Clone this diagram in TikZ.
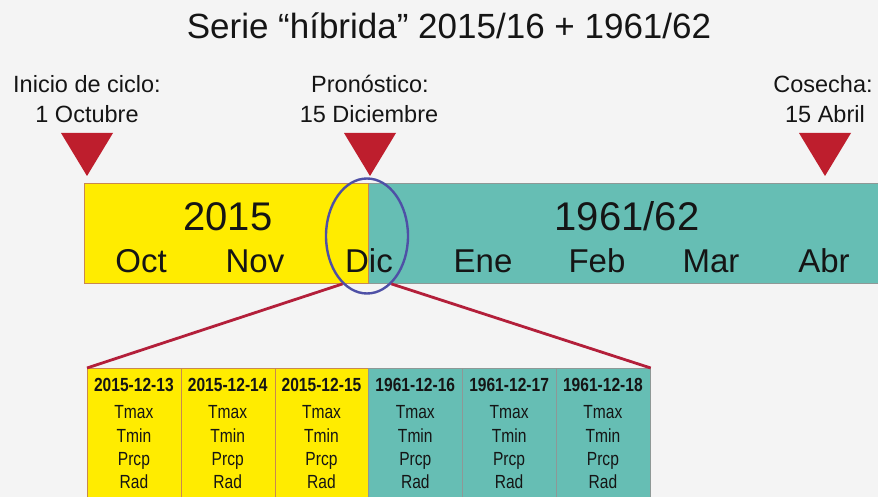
\documentclass[tikz,border=0pt]{standalone}
\usepackage{fontspec}
\setmainfont{Liberation Sans}
\usetikzlibrary{shapes.geometric}
\definecolor{bg}{HTML}{F4F4F4}
\definecolor{yel}{HTML}{FFEC00}
\definecolor{tealc}{HTML}{66BEB4}
\definecolor{tri}{HTML}{BE1E2D}
\definecolor{ellc}{HTML}{4E50A6}
\definecolor{lnk}{HTML}{B31F3A}
\definecolor{ybd}{HTML}{C98850}
\definecolor{tbd}{HTML}{8E9896}
\definecolor{ink}{HTML}{151515}
\newcommand{\nrw}[1]{\scalebox{0.82}[1]{#1}}
\begin{document}
\begin{tikzpicture}[x=1pt,y=-1pt,
  txt/.style={inner sep=0pt,text=ink,anchor=base},
  titletxt/.style={txt,font=\fontsize{35}{40}\selectfont},
  lbl/.style={txt,font=\fontsize{23.5}{28}\selectfont},
  yeartxt/.style={txt,font=\fontsize{40}{44}\selectfont},
  monthtxt/.style={txt,font=\fontsize{33}{40}\selectfont},
  datetxt/.style={txt,font=\bfseries\fontsize{19}{22}\selectfont},
  vartxt/.style={txt,font=\fontsize{19}{22}\selectfont},
  marker/.style={fill=tri},
  ycell/.style={draw=ybd,fill=yel,line width=0.9pt,inner sep=0pt,anchor=north west,minimum width=93.8pt,minimum height=140pt},
  tcell/.style={draw=tbd,fill=tealc,line width=0.9pt,inner sep=0pt,anchor=north west,minimum width=93.8pt,minimum height=140pt},
  link/.style={draw=lnk,line width=2.8pt},
]
\fill[bg] (0,0) rectangle (878,497);
\useasboundingbox (0,0) rectangle (878,497);
\clip (0,0) rectangle (878,497);

% title
\node[titletxt] (title) at (449,39) {Serie “híbrida” 2015/16 + 1961/62};

% top labels
\node[lbl] (l1a) at (87,93) {Inicio de ciclo:};
\node[lbl] (l1b) at (87,123) {1 Octubre};
\node[lbl] (l2a) at (370,93) {Pronóstico:};
\node[lbl] (l2b) at (369,123) {15 Diciembre};
\node[lbl] (l3a) at (823,93) {Cosecha:};
\node[lbl] (l3b) at (825,123) {15 Abril};

% markers
\foreach \cx in {87,370,825}{
  \fill[marker] (\cx-26,133) -- (\cx+26,133) -- (\cx,176) -- cycle;
}

% timeline bar
\node[draw=ybd,fill=yel,line width=0.9pt,inner sep=0pt,anchor=north west,minimum width=284pt,minimum height=100pt] (bary) at (84,183) {};
\node[draw=tbd,fill=tealc,line width=0.9pt,inner sep=0pt,anchor=north west,minimum width=515pt,minimum height=100pt] (bart) at (368,183) {};
\draw[ybd,line width=0.9pt] (bary.north east) -- (bary.south east);

\node[yeartxt] (y1) at (228,230) {2015};
\node[yeartxt] (y2) at (627,230) {1961/62};
\foreach \mx/\mt in {141/Oct,255/Nov,369/Dic,483/Ene,597/Feb,711/Mar,824/Abr}{
  \node[monthtxt] (m\mt) at (\mx,272) {\mt};
}

% cells
\foreach \i/\d in {1/2015-12-13,2/2015-12-14,3/2015-12-15,4/1961-12-16,5/1961-12-17,6/1961-12-18}{
  \pgfmathsetmacro{\xo}{87+(\i-1)*93.8}
  \pgfmathsetmacro{\xc}{\xo+46.9}
  \ifnum\i<4
    \node[ycell] (c\i) at (\xo,368) {};
  \else
    \node[tcell] (c\i) at (\xo,368) {};
  \fi
  \node[datetxt] (d\i) at (\xc,391) {\nrw{\d}};
  \node[vartxt] (tx\i) at (\xc,418) {\nrw{Tmax}};
  \node[vartxt] (tn\i) at (\xc,442) {\nrw{Tmin}};
  \node[vartxt] (pr\i) at (\xc,465) {\nrw{Prcp}};
  \node[vartxt] (rd\i) at (\xc,488.5) {\nrw{Rad}};
}

% zoom ellipse and links
\node[draw=ellc,line width=2.4pt,ellipse,minimum width=82pt,minimum height=115pt,inner sep=0pt] (e) at (367,236) {};
\draw[link] (e.243) -- (c1.north west);
\draw[link] (e.297) -- (c6.north east);
\end{tikzpicture}
\end{document}
